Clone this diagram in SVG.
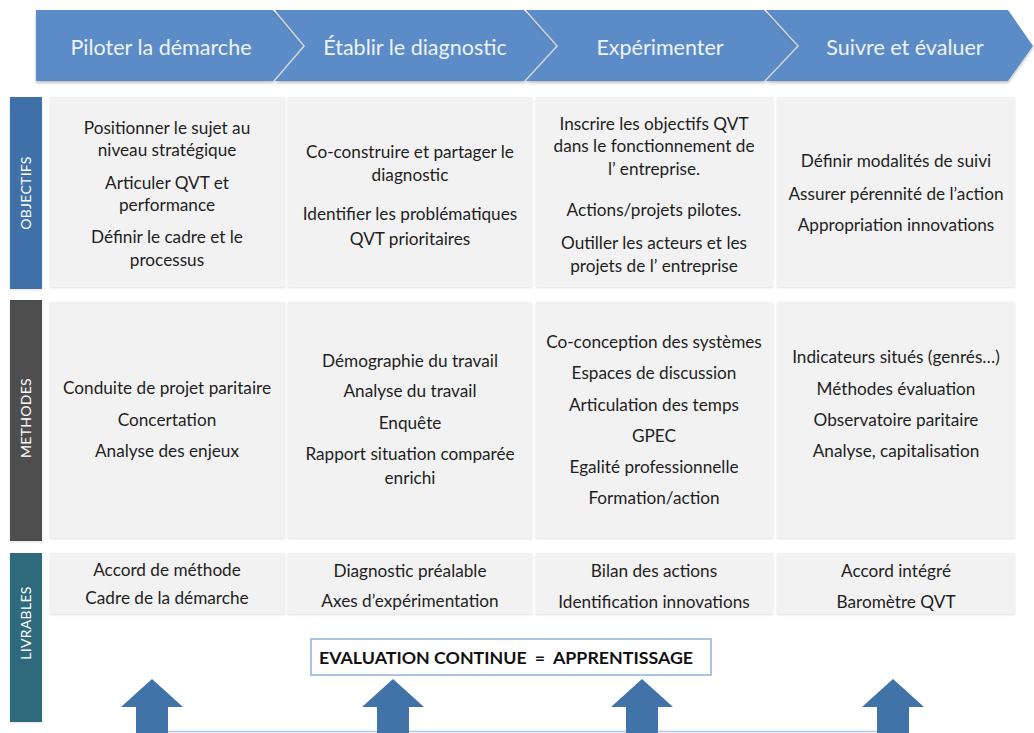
<svg xmlns="http://www.w3.org/2000/svg" width="1034" height="733" viewBox="0 0 1034 733">
<defs>
<filter id="sh" x="-5%" y="-10%" width="110%" height="130%">
<feDropShadow dx="0" dy="2" stdDeviation="1.5" flood-color="#000" flood-opacity="0.25"/>
</filter>
<filter id="sh2" x="-5%" y="-5%" width="110%" height="110%">
<feDropShadow dx="0" dy="1" stdDeviation="1" flood-color="#000" flood-opacity="0.12"/>
</filter>
</defs>
<style>
.chev{fill:#5b8cc7;filter:url(#sh)}
.ct{font-family:Lato,"Open Sans","Liberation Sans",sans-serif;font-size:21.5px;fill:#eef3f9;text-anchor:middle}
.cell{fill:#f2f2f2;filter:url(#sh2)}
.t{font-family:Lato,"Open Sans","Liberation Sans",sans-serif;font-size:17.2px;fill:#1e1e1e;text-anchor:middle}
.lab{font-family:Lato,"Open Sans","Liberation Sans",sans-serif;font-size:14px;fill:#ffffff;text-anchor:middle;letter-spacing:0.3px}
.arr{fill:#4172a8}
</style>
<rect width="1034" height="733" fill="#ffffff"/>

<g id="chevron-piloter">
<path class="chev" d="M36,10 L273,10 L303,46 L273,81 L36,81 Z"/>
<text class="ct" x="161" y="55">Piloter la démarche</text>
</g>
<g id="chevron-etablir">
<path class="chev" d="M275,10 L524,10 L556,46 L524,81 L275,81 L305,46 Z"/>
<text class="ct" x="415" y="55">Établir le diagnostic</text>
</g>
<g id="chevron-experimenter">
<path class="chev" d="M526,10 L764,10 L797,46 L764,81 L526,81 L558,46 Z"/>
<text class="ct" x="660" y="55">Expérimenter</text>
</g>
<g id="chevron-suivre">
<path class="chev" d="M766,10 L1008,10 L1033,46 L1008,81 L766,81 L799,46 Z"/>
<text class="ct" x="905" y="55">Suivre et évaluer</text>
</g>

<g id="label-objectifs">
<rect x="10" y="97" width="32" height="192" fill="#3f6fa8" filter="url(#sh2)"/>
<text class="lab" transform="translate(31,193) rotate(-90)">OBJECTIFS</text>
</g>
<g id="label-methodes">
<rect x="10" y="300" width="32" height="241" fill="#4d4d4d" filter="url(#sh2)"/>
<text class="lab" transform="translate(31,418) rotate(-90)">METHODES</text>
</g>
<g id="label-livrables">
<rect x="10" y="553" width="32" height="169" fill="#2e6b7c" filter="url(#sh2)"/>
<text class="lab" transform="translate(31,623) rotate(-90)">LIVRABLES</text>
</g>

<g id="obj-1">
<rect class="cell" x="50" y="97" width="235" height="190"/>
<text class="t" x="167" y="134">Positionner le sujet au</text>
<text class="t" x="167" y="156">niveau stratégique</text>
<text class="t" x="167" y="189">Articuler QVT et</text>
<text class="t" x="167" y="211">performance</text>
<text class="t" x="167" y="243">Définir le cadre et le</text>
<text class="t" x="167" y="266">processus</text>
</g>
<g id="obj-2">
<rect class="cell" x="288" y="97" width="244" height="190"/>
<text class="t" x="410" y="158">Co-construire et partager le</text>
<text class="t" x="410" y="181">diagnostic</text>
<text class="t" x="410" y="220">Identifier les problématiques</text>
<text class="t" x="410" y="245">QVT prioritaires</text>
</g>
<g id="obj-3">
<rect class="cell" x="536" y="97" width="237" height="190"/>
<text class="t" x="654" y="130">Inscrire les objectifs QVT</text>
<text class="t" x="654" y="152">dans le fonctionnement de</text>
<text class="t" x="654" y="175">l’ entreprise.</text>
<text class="t" x="654" y="216">Actions/projets pilotes.</text>
<text class="t" x="654" y="249">Outiller les acteurs et les</text>
<text class="t" x="654" y="272">projets de l’ entreprise</text>
</g>
<g id="obj-4">
<rect class="cell" x="777" y="97" width="238" height="190"/>
<text class="t" x="896" y="167">Définir modalités de suivi</text>
<text class="t" x="896" y="200">Assurer pérennité de l’action</text>
<text class="t" x="896" y="231">Appropriation innovations</text>
</g>

<g id="meth-1">
<rect class="cell" x="50" y="302" width="235" height="236"/>
<text class="t" x="167" y="394">Conduite de projet paritaire</text>
<text class="t" x="167" y="426">Concertation</text>
<text class="t" x="167" y="457">Analyse des enjeux</text>
</g>
<g id="meth-2">
<rect class="cell" x="288" y="302" width="244" height="236"/>
<text class="t" x="410" y="367">Démographie du travail</text>
<text class="t" x="410" y="397">Analyse du travail</text>
<text class="t" x="410" y="429">Enquête</text>
<text class="t" x="410" y="460">Rapport situation comparée</text>
<text class="t" x="410" y="484">enrichi</text>
</g>
<g id="meth-3">
<rect class="cell" x="536" y="302" width="237" height="236"/>
<text class="t" x="654" y="348">Co-conception des systèmes</text>
<text class="t" x="654" y="379">Espaces de discussion</text>
<text class="t" x="654" y="411">Articulation des temps</text>
<text class="t" x="654" y="442">GPEC</text>
<text class="t" x="654" y="473">Egalité professionnelle</text>
<text class="t" x="654" y="504">Formation/action</text>
</g>
<g id="meth-4">
<rect class="cell" x="777" y="302" width="238" height="236"/>
<text class="t" x="896" y="363">Indicateurs situés (genrés…)</text>
<text class="t" x="896" y="395">Méthodes évaluation</text>
<text class="t" x="896" y="426">Observatoire paritaire</text>
<text class="t" x="896" y="457">Analyse, capitalisation</text>
</g>

<g id="liv-1">
<rect class="cell" x="50" y="553" width="235" height="61"/>
<text class="t" x="167" y="576">Accord de méthode</text>
<text class="t" x="167" y="604">Cadre de la démarche</text>
</g>
<g id="liv-2">
<rect class="cell" x="288" y="553" width="244" height="61"/>
<text class="t" x="410" y="577">Diagnostic préalable</text>
<text class="t" x="410" y="607">Axes d’expérimentation</text>
</g>
<g id="liv-3">
<rect class="cell" x="536" y="553" width="237" height="61"/>
<text class="t" x="654" y="577">Bilan des actions</text>
<text class="t" x="654" y="608">Identification innovations</text>
</g>
<g id="liv-4">
<rect class="cell" x="777" y="553" width="238" height="61"/>
<text class="t" x="896" y="577">Accord intégré</text>
<text class="t" x="896" y="608">Baromètre QVT</text>
</g>

<g id="evaluation">
<rect x="311" y="639" width="400" height="36" fill="#ffffff" stroke="#8fb3d8" stroke-width="1.5"/>
<text x="506" y="664" font-family="Lato,'Open Sans','Liberation Sans',sans-serif" font-size="17.8" font-weight="bold" fill="#111" text-anchor="middle">EVALUATION CONTINUE<tspan dx="8">=</tspan><tspan dx="8">APPRENTISSAGE</tspan></text>
</g>

<g id="connectors">
<line x1="152" y1="731.5" x2="893" y2="731.5" stroke="#a9c9e8" stroke-width="1.5"/>
<path class="arr" d="M152,679 L183,707 L168,707 L168,733 L136,733 L136,707 L121,707 Z"/>
<path class="arr" d="M393,679 L424,707 L409,707 L409,733 L377,733 L377,707 L362,707 Z"/>
<path class="arr" d="M642,679 L673,707 L658,707 L658,733 L626,733 L626,707 L611,707 Z"/>
<path class="arr" d="M893,679 L924,707 L909,707 L909,733 L877,733 L877,707 L862,707 Z"/>
</g>
</svg>
